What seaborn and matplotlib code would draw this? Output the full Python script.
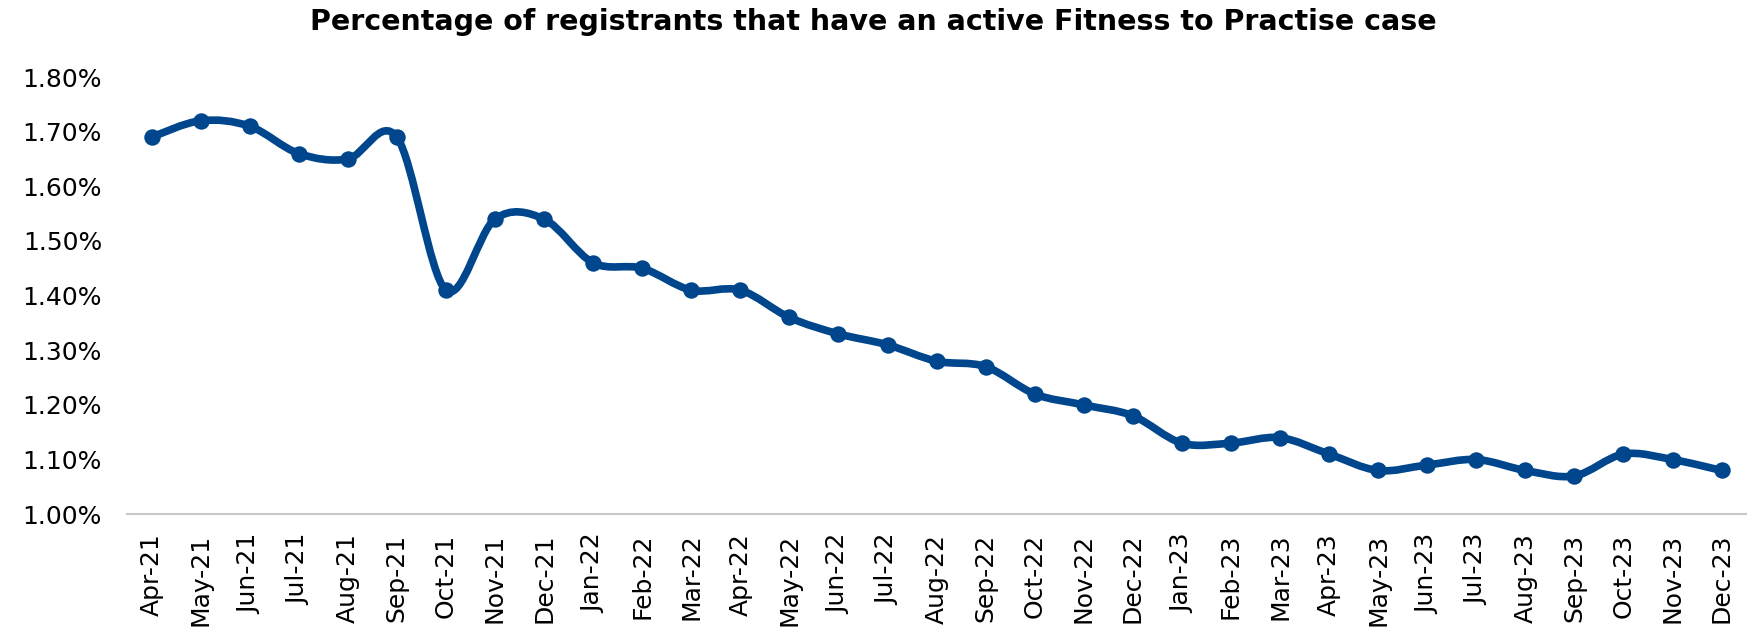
import numpy as np
import pandas as pd
import matplotlib
matplotlib.use("Agg")
import matplotlib.pyplot as plt
from matplotlib.path import Path
from matplotlib.patches import PathPatch
from matplotlib.ticker import FuncFormatter
import seaborn as sns

months = ["Apr-21", "May-21", "Jun-21", "Jul-21", "Aug-21", "Sep-21", "Oct-21", "Nov-21",
          "Dec-21", "Jan-22", "Feb-22", "Mar-22", "Apr-22", "May-22", "Jun-22", "Jul-22",
          "Aug-22", "Sep-22", "Oct-22", "Nov-22", "Dec-22", "Jan-23", "Feb-23", "Mar-23",
          "Apr-23", "May-23", "Jun-23", "Jul-23", "Aug-23", "Sep-23", "Oct-23", "Nov-23",
          "Dec-23"]
pct = [1.69, 1.72, 1.71, 1.66, 1.65, 1.69, 1.41, 1.54,
       1.54, 1.46, 1.45, 1.41, 1.41, 1.36, 1.33, 1.31,
       1.28, 1.27, 1.22, 1.20, 1.18, 1.13, 1.13, 1.14,
       1.11, 1.08, 1.09, 1.10, 1.08, 1.07, 1.11, 1.10,
       1.08]
yticks = [1.00, 1.10, 1.20, 1.30, 1.40, 1.50, 1.60, 1.70, 1.80]
title = "Percentage of registrants that have an active Fitness to Practise case"

sns.set_style("white")
plt.rcParams['font.family'] = ['DejaVu Sans']
plt.rcParams['text.color'] = '#000000'

color = "#00468C"
df = pd.DataFrame({"pos": np.arange(len(months)), "pct": pct})

fig = plt.figure(figsize=(17.47, 6.34), dpi=100)
ax = fig.add_axes([0.0727, 0.189, 0.9268, 0.6895])

# smoothed line (Excel-style Catmull-Rom Bezier through the data points)
xs = df["pos"].to_numpy(dtype=float)
ys = df["pct"].to_numpy(dtype=float)
n = len(xs)
verts = [(xs[0], ys[0])]
codes = [Path.MOVETO]
for i in range(n - 1):
    p0 = i - 1 if i > 0 else i
    p3 = i + 2 if i + 2 < n else i + 1
    c1 = (xs[i] + (xs[i + 1] - xs[p0]) / 6, ys[i] + (ys[i + 1] - ys[p0]) / 6)
    c2 = (xs[i + 1] - (xs[p3] - xs[i]) / 6, ys[i + 1] - (ys[p3] - ys[i]) / 6)
    verts += [c1, c2, (xs[i + 1], ys[i + 1])]
    codes += [Path.CURVE4] * 3
ax.add_patch(PathPatch(Path(verts, codes), facecolor="none", edgecolor=color,
                       lw=5.5, capstyle="round", joinstyle="round", zorder=2))

sns.scatterplot(data=df, x="pos", y="pct", ax=ax, color=color, s=140,
                edgecolor=color, linewidth=0, zorder=3, legend=False)

ax.set_xlim(-0.5, n - 0.5)
ax.set_ylim(1.0, 1.8)
ax.set_yticks(yticks)
ax.yaxis.set_major_formatter(FuncFormatter(lambda v, p: f"{v:.2f}%"))
ax.set_xticks(xs)
ax.set_xticklabels(months, rotation=90)
ax.set_xticks(np.arange(n + 1) - 0.5, minor=True)
ax.tick_params(axis="x", which="major", length=0, pad=14, labelsize=18, colors="#000000")
ax.tick_params(axis="x", which="minor", length=8, width=1.5, color="#C8C8C8", direction="out")
ax.tick_params(axis="y", length=0, pad=18, labelsize=18, colors="#000000")
ax.set_xlabel("")
ax.set_ylabel("")

for s in ["top", "right", "left"]:
    ax.spines[s].set_visible(False)
ax.spines["bottom"].set_color("#C8C8C8")
ax.spines["bottom"].set_linewidth(1.5)
ax.spines["bottom"].set_linestyle((0, (2, 1)))

fig.text(0.5, 0.965, title, ha="center", va="center", fontsize=20.5,
         fontweight="bold", color="#000000")

fig.savefig("out.png", dpi=100)
